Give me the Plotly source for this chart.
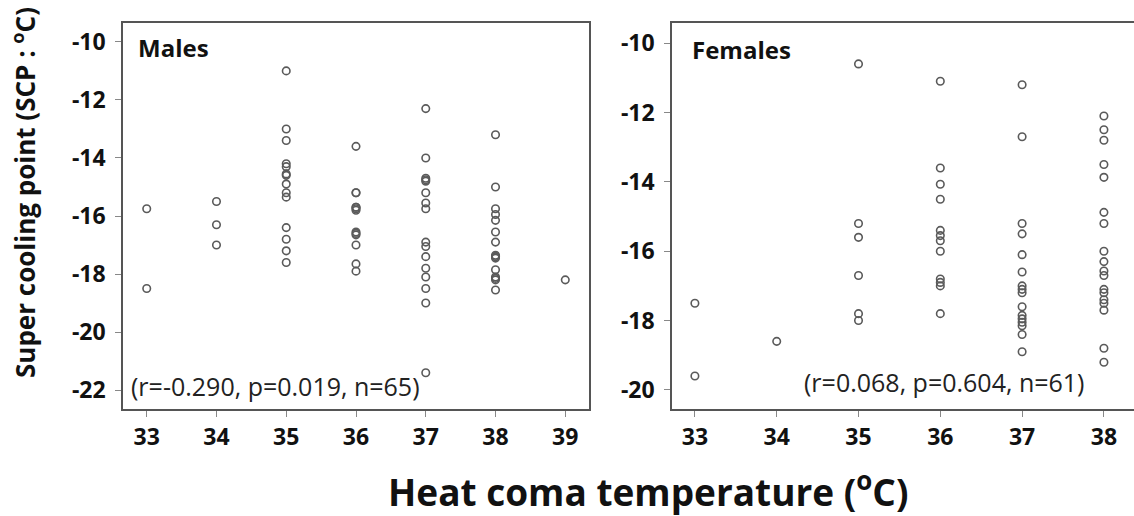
import plotly.graph_objects as go

# Males: heat coma temperature (x) and super cooling point (y)
male_x = [33, 33,
          34, 34, 34,
          35, 35, 35, 35, 35, 35, 35, 35, 35, 35, 35, 35, 35, 35,
          36, 36, 36, 36, 36, 36, 36, 36, 36, 36, 36, 36, 36,
          37, 37, 37, 37, 37, 37, 37, 37, 37, 37, 37, 37, 37, 37, 37, 37,
          38, 38, 38, 38, 38, 38, 38, 38, 38, 38, 38, 38, 38, 38, 38, 38,
          39]
male_y = [-15.75, -18.5,
          -15.5, -16.3, -17.0,
          -11.0, -13.0, -13.4, -14.2, -14.3, -14.55, -14.6, -14.9, -15.2, -15.35, -16.4, -16.8, -17.2, -17.6,
          -13.6, -15.2, -15.2, -15.7, -15.7, -15.75, -15.8, -16.55, -16.6, -16.65, -17.0, -17.65, -17.9,
          -12.3, -14.0, -14.7, -14.75, -14.8, -15.2, -15.55, -15.75, -16.9, -17.05, -17.4, -17.8, -18.1, -18.5, -19.0, -21.4,
          -13.2, -15.0, -15.75, -15.95, -16.15, -16.55, -16.9, -17.35, -17.4, -17.4, -17.45, -17.85, -18.1, -18.15, -18.2, -18.55,
          -18.2]

# Females
female_x = [33, 33,
            34,
            35, 35, 35, 35, 35, 35,
            36, 36, 36, 36, 36, 36, 36, 36, 36, 36, 36, 36,
            37, 37, 37, 37, 37, 37, 37, 37, 37, 37, 37, 37, 37, 37, 37, 37,
            38, 38, 38, 38, 38, 38, 38, 38, 38, 38, 38, 38, 38, 38, 38, 38, 38, 38]
female_y = [-17.5, -19.6,
            -18.6,
            -10.6, -15.2, -15.6, -16.7, -17.8, -18.0,
            -11.1, -13.6, -14.07, -14.5, -15.4, -15.55, -15.7, -16.0, -16.8, -16.9, -17.0, -17.8,
            -11.2, -12.7, -15.2, -15.5, -16.1, -16.6, -17.0, -17.1, -17.2, -17.6, -17.85, -17.95, -18.05, -18.15, -18.4, -18.9,
            -12.1, -12.5, -12.8, -13.5, -13.87, -14.88, -15.2, -16.0, -16.3, -16.57, -16.7, -17.1, -17.2, -17.4, -17.5, -17.7, -18.8, -19.2]

male_ticks_x = [33, 34, 35, 36, 37, 38, 39]
male_ticks_y = [-10, -12, -14, -16, -18, -20, -22]
female_ticks_x = [33, 34, 35, 36, 37, 38]
female_ticks_y = [-10, -12, -14, -16, -18, -20]

W, H = 1144, 516   # a few px wider than the window: the right panel is cut off at the edge
FONT = "Open Sans"
marker = dict(symbol="circle-open", size=7.5, color="#5a5a5a", line=dict(width=1.6, color="#5a5a5a"))

fig = go.Figure()
fig.add_trace(go.Scatter(x=male_x, y=male_y, mode="markers", marker=marker, xaxis="x", yaxis="y", showlegend=False))
fig.add_trace(go.Scatter(x=female_x, y=female_y, mode="markers", marker=marker, xaxis="x2", yaxis="y2", showlegend=False))


def px(v):
    return v / W


def py(v):
    return 1 - v / H


def ylabels(vals):
    return ["-" + str(abs(v)) if v < 0 else str(v) for v in vals]


tickfont = dict(family=FONT, size=23, color="#111", weight="bold")
axcommon = dict(showgrid=False, zeroline=False, showline=True, linecolor="#555", linewidth=1.5,
                ticks="outside", ticklen=6, tickcolor="#888", tickwidth=1, tickfont=tickfont)

fig.update_layout(
    width=W, height=H,
    margin=dict(l=0, r=0, t=0, b=0),
    paper_bgcolor="white", plot_bgcolor="white",
    xaxis=dict(domain=[px(123), px(589)], range=[32.66, 39.34], tickvals=male_ticks_x,
               mirror=True, anchor="y", ticklabelstandoff=1, **axcommon),
    yaxis=dict(domain=[py(409), py(23)], range=[-22.65, -9.35], tickvals=male_ticks_y,
               ticktext=ylabels(male_ticks_y), mirror=True, anchor="x", ticklabelstandoff=5, **axcommon),
    xaxis2=dict(domain=[px(672), 1.0], range=[32.72, 38.49], tickvals=female_ticks_x,
                mirror=True, anchor="y2", ticklabelstandoff=1, **axcommon),
    yaxis2=dict(domain=[py(409), py(23)], range=[-20.55, -9.42], tickvals=female_ticks_y,
                ticktext=ylabels(female_ticks_y), mirror=False, anchor="x2", ticklabelstandoff=5, **axcommon),
)

ann_bold = dict(family=FONT, size=24, color="#111", weight="bold")
ann_reg = dict(family=FONT, size=25, color="#222")
fig.add_annotation(x=px(136), y=py(48), xref="paper", yref="paper", text="Males", showarrow=False,
                   xanchor="left", yanchor="middle", font=ann_bold)
fig.add_annotation(x=px(690), y=py(50), xref="paper", yref="paper", text="Females", showarrow=False,
                   xanchor="left", yanchor="middle", font=ann_bold)
fig.add_annotation(x=px(129), y=py(386), xref="paper", yref="paper", text="(r=-0.290, p=0.019, n=65)",
                   showarrow=False, xanchor="left", yanchor="middle", font=ann_reg)
fig.add_annotation(x=px(1086), y=py(382), xref="paper", yref="paper", text="(r=0.068, p=0.604, n=61)",
                   showarrow=False, xanchor="right", yanchor="middle", font=ann_reg)
fig.add_annotation(x=px(648), y=py(489), xref="paper", yref="paper",
                   text="Heat coma temperature (<sup>o</sup>C)", showarrow=False,
                   xanchor="center", yanchor="middle", font=dict(family=FONT, size=37, color="#111", weight="bold"))
fig.add_annotation(x=px(24), y=py(193), xref="paper", yref="paper",
                   text="Super cooling point (SCP : <sup>o</sup>C)", showarrow=False, textangle=-90,
                   xanchor="center", yanchor="middle", font=dict(family=FONT, size=26, color="#111", weight="bold"))

fig.write_html("out.html", config={"displayModeBar": False},
               post_script="document.body.style.margin='0';document.body.style.overflow='hidden';")
